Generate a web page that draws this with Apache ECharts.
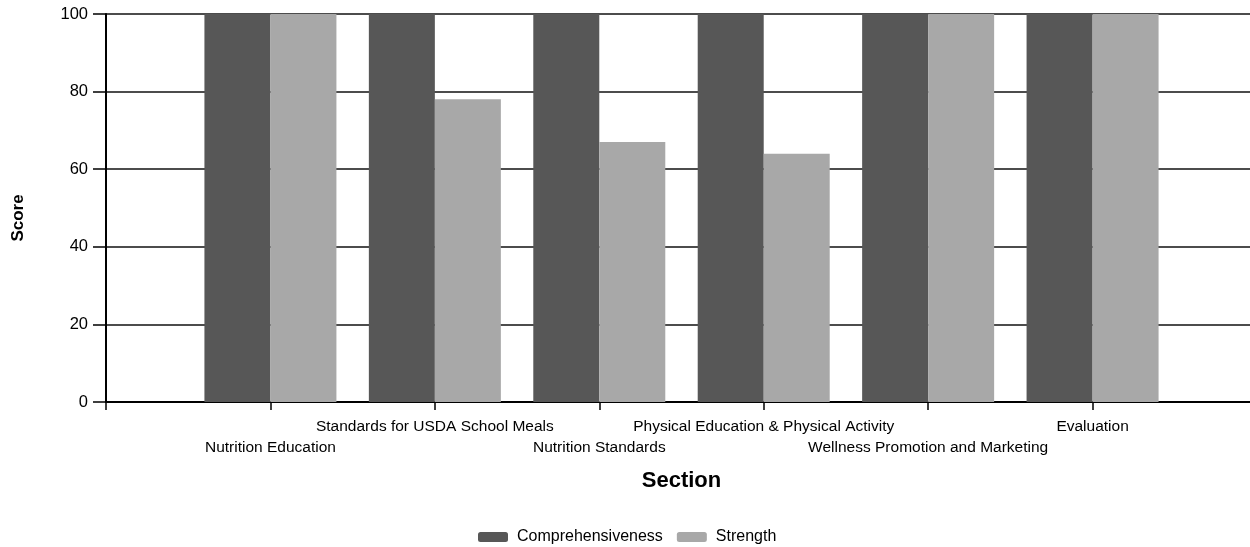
<!DOCTYPE html>
<html>
<head>
<meta charset="utf-8">
<script src="https://cdn.jsdelivr.net/npm/echarts@6/dist/echarts.min.js"></script>
<style>html,body{margin:0;padding:0;background:#fff;overflow:hidden}#c{width:1260px;height:547px}</style>
</head>
<body>
<div id="c"></div>
<script>
const categories = ['Nutrition Education','Standards for USDA School Meals','Nutrition Standards','Physical Education & Physical Activity','Wellness Promotion and Marketing','Evaluation'];
const comprehensiveness = [100,100,100,100,100,100];
const strength = [100,78,67,64,100,100];
const yTicks = [0,20,40,60,80,100];

const padded = [''].concat(categories, ['']);
const pad = arr => [null].concat(arr, [null]);
const font = '"Liberation Sans", Arial, sans-serif';

const chart = echarts.init(document.getElementById('c'));
chart.setOption({
  animation:false,
  backgroundColor:'#fff',
  grid:{left:106, width:1152, top:14, height:388, containLabel:false},
  xAxis:{
    type:'category', data:padded, boundaryGap:false,
    name:'Section', nameLocation:'middle', nameGap:68,
    nameTextStyle:{fontFamily:font, fontSize:22, fontWeight:'bold', color:'#000'},
    axisLine:{lineStyle:{color:'#000', width:2}},
    axisTick:{show:true, length:8, lineStyle:{color:'#000', width:1.5}},
    axisLabel:{interval:0, fontFamily:font, fontSize:15.5, lineHeight:21, color:'#000', margin:14,
      formatter:(v,i)=> v==='' ? '' : (i%2===1 ? '\n'+v : v)
    },
    splitLine:{show:false}
  },
  yAxis:{
    type:'value', min:0, max:100, interval:20,
    axisLine:{show:true, lineStyle:{color:'#000', width:2}},
    axisTick:{show:true, length:13, lineStyle:{color:'#000', width:1.5}},
    axisLabel:{fontFamily:font, fontSize:16.5, color:'#000', margin:18,
      formatter:v=> yTicks.indexOf(v)>=0 ? String(v) : ''},
    splitLine:{show:true, lineStyle:{color:'#111', width:1.5}}
  },
  graphic:[
    {type:'text', x:18, y:218, rotation:Math.PI/2,
      style:{text:'Score', fontFamily:font, fontSize:17, fontWeight:'bold', fill:'#000', align:'center', verticalAlign:'middle'}}
  ],
  legend:{
    top:524, left:473, itemWidth:30, itemHeight:10, itemGap:14,
    textStyle:{fontFamily:font, fontSize:16, color:'#000', padding:[0,0,0,4]},
    data:['Comprehensiveness','Strength']
  },
  series:[
    {name:'Comprehensiveness', type:'bar', data:pad(comprehensiveness), barWidth:66, barGap:'0%',
      itemStyle:{color:'#575757'}},
    {name:'Strength', type:'bar', data:pad(strength), barWidth:66, barGap:'0%',
      itemStyle:{color:'#a8a8a8'}}
  ]
});
</script>
</body>
</html>
